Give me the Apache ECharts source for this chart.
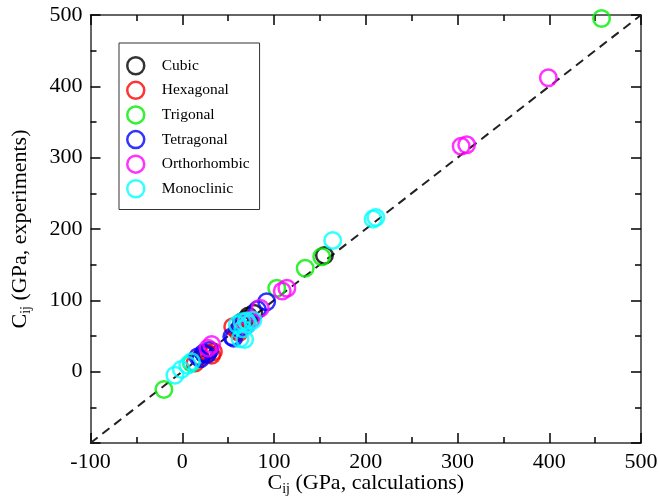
<!DOCTYPE html>
<html>
<head>
<meta charset="utf-8">
<script src="https://cdn.jsdelivr.net/npm/echarts@6/dist/echarts.min.js"></script>
<style>html,body{margin:0;padding:0;background:#fff}#c{width:659px;height:504px}</style>
</head>
<body>
<div id="c"></div>
<script>
const seriesNames = ['Cubic','Hexagonal','Trigonal','Tetragonal','Orthorhombic','Monoclinic'];
const seriesColors = ['#000000','#ff0000','#00ee00','#0000ff','#ff00ff','#00ffff'];
const cubic = [[155,163],[78,82],[72,78],[65,70],[25,25],[70,74]];
const hexagonal = [[14,12],[32,23],[34,28],[55,63],[60,57],[67,65],[20,20],[28,26],[62,55]];
const trigonal = [[-20,-25],[134,145],[152,161],[457,495],[103,117],[10,12]];
const tetragonal = [[17,21],[23,26],[30,30],[54,49],[56,47],[62,60],[92,98],[82,87],[20,18],[27,24],[65,68]];
const orthorhombic = [[399,412],[304,316],[310,318],[109,113],[114,117],[85,89],[28,33],[32,38],[70,70],[75,73],[70,65]];
const monoclinic = [[-8,-5],[-1,3],[6,9],[10,14],[164,184],[208,214],[211,216],[63,46],[60,66],[65,70],[70,71],[72,67],[77,72],[66,60],[68,45]];
const allData = [cubic,hexagonal,trigonal,tetragonal,orthorhombic,monoclinic];
const diagLine = [[-100,-100],[500,500]];

const FONT = 'Liberation Serif';
const chart = echarts.init(document.getElementById('c'), null, {renderer:'canvas'});
function axisCommon(){
  return {
    type:'value', min:-100, max:500, interval:100,
    axisLine:{show:true, onZero:false, lineStyle:{color:'#333', width:1.5}},
    axisTick:{show:true, inside:true, length:10, lineStyle:{color:'#000', width:1.5}},
    minorTick:{show:true, splitNumber:2, length:6, lineStyle:{color:'#000', width:1.5}},
    splitLine:{show:false}, minorSplitLine:{show:false}
  };
}
const labelStyle = {color:'#000', fontFamily:FONT, fontSize:22};
const rich = {
  c:{fontFamily:FONT, fontSize:22, color:'#000'},
  s:{fontFamily:FONT, fontSize:14, color:'#000', padding:[12,0,0,0]}
};
const series = [{
  type:'line', data:diagLine, symbol:'none', silent:true,
  lineStyle:{color:'#222', width:2, type:[9,6]}, z:1
}];
allData.forEach((d,i)=>{
  series.push({
    name:seriesNames[i], type:'scatter', data:d, symbol:'circle', symbolSize:16.5,
    itemStyle:{color:'rgba(0,0,0,0)', borderColor:seriesColors[i], borderWidth:2.5}, z:2
  });
});
chart.setOption({
  animation:false,
  backgroundColor:'#fff',
  grid:{left:90.5, right:18, top:15, bottom:61, containLabel:false, outerBoundsMode:'none'},
  legend:{
    orient:'vertical', left:119, top:43,
    data:seriesNames.map((n,i)=>({name:n, icon:'circle', itemStyle:{color:'rgba(0,0,0,0)', borderColor:seriesColors[i], borderWidth:2.5}})),
    itemWidth:30, itemHeight:17, itemGap:5.1,
    padding:[13,10,11,7],
    borderColor:'#333', borderWidth:1, backgroundColor:'#fff',
    textStyle:{fontFamily:FONT, fontSize:15.5, lineHeight:17, color:'#000', padding:[0,0,0,6]}
  },
  xAxis:[
    Object.assign(axisCommon(), {position:'bottom',
      axisLabel:Object.assign({margin:8}, labelStyle),
      name:'{c|C}{s|ij}{c| (GPa, calculations)}', nameLocation:'middle', nameGap:27,
      nameMoveOverlap:false,
      nameTextStyle:{rich:rich}}),
    Object.assign(axisCommon(), {position:'top', axisLabel:{show:false}})
  ],
  yAxis:[
    Object.assign(axisCommon(), {position:'left',
      axisLabel:Object.assign({margin:8, showMinLabel:false}, labelStyle),
      name:'{c|C}{s|ij}{c| (GPa, experiments)}', nameLocation:'middle', nameGap:57,
      nameMoveOverlap:false,
      nameTextStyle:{rich:rich}}),
    Object.assign(axisCommon(), {position:'right', axisLabel:{show:false}})
  ],
  series:series
});
</script>
</body>
</html>
